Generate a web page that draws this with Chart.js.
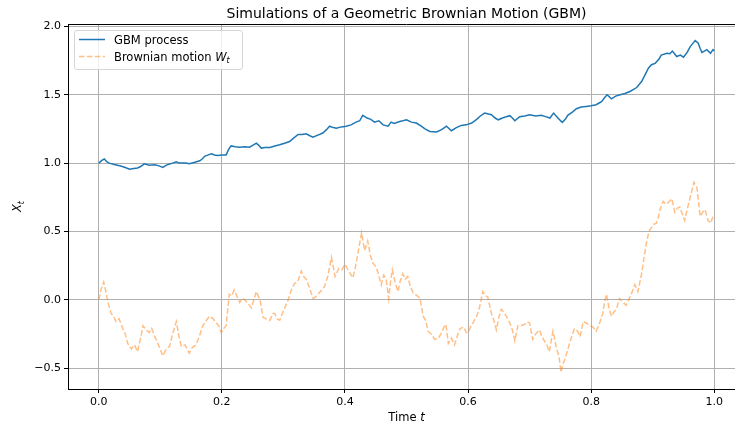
<!DOCTYPE html>
<html lang="en">
<head>
<meta charset="UTF-8">
<title>GBM simulation</title>
<script src="https://cdn.jsdelivr.net/npm/chart.js"></script>
<style>
  html, body { margin: 0; padding: 0; background: #ffffff; overflow: hidden; }
  /* plot is a bit wider than the window, the right spine falls off like in the picture */
  .chart-box { position: relative; width: 745px; height: 426px; }
</style>
</head>
<body>
<div class="chart-box"><canvas id="gbmChart"></canvas></div>
<script>
const chartTitle = 'Simulations of a Geometric Brownian Motion (GBM)';
const xTicks = [0, 0.2, 0.4, 0.6, 0.8, 1.0];
const yTicks = [-0.5, 0, 0.5, 1.0, 1.5, 2.0];

// Brownian motion W_t
const bmTimes = [
  0.000, 0.004, 0.008, 0.012, 0.015, 0.020, 0.024, 0.028, 0.033, 0.039, 0.043, 0.047, 0.053, 0.058, 0.063, 0.068,
  0.072, 0.077, 0.082, 0.086, 0.091, 0.097, 0.104, 0.110, 0.115, 0.120, 0.126, 0.130, 0.134, 0.140, 0.147, 0.152,
  0.158, 0.164, 0.169, 0.175, 0.180, 0.186, 0.191, 0.195, 0.199, 0.203, 0.207, 0.212, 0.216, 0.220, 0.225, 0.229,
  0.233, 0.237, 0.243, 0.248, 0.252, 0.256, 0.262, 0.267, 0.272, 0.278, 0.283, 0.286, 0.290, 0.294, 0.300, 0.307,
  0.312, 0.318, 0.323, 0.329, 0.333, 0.337, 0.343, 0.348, 0.352, 0.356, 0.362, 0.367, 0.372, 0.378, 0.384, 0.390,
  0.395, 0.400, 0.406, 0.413, 0.417, 0.421, 0.427, 0.432, 0.437, 0.441, 0.445, 0.449, 0.453, 0.459, 0.463, 0.467,
  0.471, 0.474, 0.477, 0.482, 0.486, 0.490, 0.494, 0.498, 0.502, 0.506, 0.511, 0.517, 0.522, 0.527, 0.531, 0.535,
  0.540, 0.546, 0.552, 0.557, 0.561, 0.564, 0.568, 0.573, 0.578, 0.583, 0.587, 0.593, 0.597, 0.600, 0.604, 0.608,
  0.614, 0.619, 0.624, 0.628, 0.632, 0.638, 0.642, 0.646, 0.650, 0.654, 0.658, 0.662, 0.668, 0.672, 0.676, 0.681,
  0.686, 0.692, 0.696, 0.700, 0.705, 0.710, 0.716, 0.720, 0.724, 0.728, 0.732, 0.738, 0.743, 0.748, 0.751, 0.754,
  0.757, 0.761, 0.765, 0.769, 0.773, 0.778, 0.782, 0.787, 0.792, 0.798, 0.803, 0.808, 0.813, 0.819, 0.822, 0.825,
  0.829, 0.833, 0.837, 0.841, 0.846, 0.852, 0.857, 0.861, 0.866, 0.871, 0.876, 0.882, 0.887, 0.890, 0.894, 0.901,
  0.906, 0.909, 0.912, 0.917, 0.921, 0.925, 0.931, 0.936, 0.940, 0.944, 0.948, 0.952, 0.956, 0.961, 0.967, 0.972,
  0.975, 0.977, 0.981, 0.985, 0.990, 0.994, 0.998, 1.000
];
const bmValues = [
  0.00, 0.08, 0.13, 0.05, -0.02, -0.10, -0.12, -0.16, -0.14, -0.21, -0.25, -0.32, -0.36, -0.33, -0.38, -0.28,
  -0.19, -0.22, -0.24, -0.21, -0.27, -0.33, -0.41, -0.36, -0.34, -0.25, -0.16, -0.26, -0.34, -0.33, -0.39, -0.35,
  -0.33, -0.26, -0.19, -0.15, -0.12, -0.14, -0.17, -0.19, -0.24, -0.21, -0.19, 0.04, 0.03, 0.07, 0.02, -0.02,
  0.01, 0.00, -0.03, -0.06, 0.00, 0.06, 0.00, -0.13, -0.14, -0.15, -0.10, -0.10, -0.14, -0.15, -0.08, -0.01,
  0.06, 0.12, 0.13, 0.21, 0.17, 0.15, 0.08, 0.01, 0.02, 0.04, 0.07, 0.10, 0.17, 0.31, 0.17, 0.23,
  0.22, 0.26, 0.21, 0.16, 0.24, 0.34, 0.49, 0.36, 0.43, 0.33, 0.27, 0.25, 0.21, 0.11, 0.18, 0.15,
  0.01, 0.13, 0.22, 0.12, 0.06, 0.14, 0.19, 0.15, 0.17, 0.10, 0.05, 0.03, 0.01, -0.12, -0.15, -0.23,
  -0.25, -0.29, -0.28, -0.24, -0.20, -0.18, -0.32, -0.28, -0.33, -0.26, -0.21, -0.20, -0.24, -0.24, -0.20, -0.17,
  -0.12, -0.05, 0.06, 0.03, 0.02, -0.10, -0.15, -0.22, -0.13, -0.07, -0.09, -0.12, -0.17, -0.22, -0.30, -0.19,
  -0.19, -0.18, -0.16, -0.17, -0.29, -0.25, -0.22, -0.27, -0.30, -0.33, -0.38, -0.23, -0.34, -0.42, -0.53, -0.47,
  -0.44, -0.38, -0.32, -0.26, -0.21, -0.23, -0.27, -0.16, -0.17, -0.19, -0.20, -0.23, -0.18, -0.10, -0.01, 0.04,
  -0.06, -0.12, -0.09, -0.07, 0.01, -0.02, -0.04, 0.00, 0.05, 0.11, 0.06, 0.19, 0.34, 0.42, 0.50, 0.55,
  0.56, 0.60, 0.66, 0.72, 0.70, 0.71, 0.74, 0.64, 0.67, 0.68, 0.63, 0.58, 0.66, 0.75, 0.86, 0.82,
  0.70, 0.61, 0.64, 0.66, 0.58, 0.56, 0.61, 0.60
];

// GBM process X_t
const gbmTimes = [
  0.000, 0.005, 0.009, 0.013, 0.017, 0.025, 0.034, 0.042, 0.050, 0.057, 0.063, 0.068, 0.074, 0.082, 0.091, 0.098,
  0.104, 0.110, 0.115, 0.120, 0.126, 0.131, 0.137, 0.142, 0.147, 0.155, 0.164, 0.168, 0.172, 0.178, 0.183, 0.188,
  0.193, 0.200, 0.207, 0.211, 0.215, 0.222, 0.229, 0.237, 0.245, 0.250, 0.256, 0.260, 0.264, 0.270, 0.278, 0.286,
  0.294, 0.302, 0.310, 0.317, 0.324, 0.330, 0.337, 0.343, 0.348, 0.356, 0.364, 0.370, 0.375, 0.381, 0.386, 0.394,
  0.402, 0.410, 0.418, 0.424, 0.429, 0.436, 0.442, 0.448, 0.455, 0.462, 0.470, 0.475, 0.480, 0.489, 0.494, 0.500,
  0.508, 0.516, 0.524, 0.530, 0.538, 0.549, 0.557, 0.565, 0.573, 0.581, 0.589, 0.597, 0.606, 0.614, 0.620, 0.627,
  0.633, 0.638, 0.644, 0.649, 0.656, 0.662, 0.668, 0.672, 0.676, 0.684, 0.692, 0.700, 0.710, 0.719, 0.726, 0.733,
  0.739, 0.746, 0.753, 0.758, 0.762, 0.770, 0.776, 0.784, 0.792, 0.800, 0.808, 0.813, 0.817, 0.822, 0.826, 0.833,
  0.840, 0.847, 0.855, 0.863, 0.869, 0.874, 0.882, 0.888, 0.893, 0.898, 0.904, 0.910, 0.914, 0.923, 0.928, 0.932,
  0.939, 0.945, 0.950, 0.956, 0.961, 0.966, 0.969, 0.974, 0.977, 0.980, 0.984, 0.988, 0.994, 0.998, 1.000
];
const gbmValues = [
  1.00, 1.02, 1.03, 1.01, 1.00, 0.99, 0.98, 0.97, 0.956, 0.96, 0.964, 0.975, 0.995, 0.985, 0.988, 0.98,
  0.968, 0.985, 0.993, 1.00, 1.01, 1.00, 1.00, 1.00, 0.995, 1.005, 1.017, 1.03, 1.05, 1.06, 1.068, 1.06,
  1.055, 1.06, 1.06, 1.10, 1.126, 1.12, 1.117, 1.12, 1.117, 1.13, 1.146, 1.13, 1.11, 1.115, 1.114, 1.125,
  1.134, 1.145, 1.158, 1.185, 1.21, 1.21, 1.214, 1.20, 1.19, 1.205, 1.22, 1.245, 1.27, 1.26, 1.255, 1.265,
  1.27, 1.28, 1.30, 1.31, 1.35, 1.33, 1.32, 1.30, 1.31, 1.28, 1.27, 1.30, 1.29, 1.305, 1.31, 1.317,
  1.30, 1.293, 1.27, 1.25, 1.232, 1.228, 1.245, 1.27, 1.237, 1.26, 1.276, 1.28, 1.293, 1.32, 1.345, 1.366,
  1.36, 1.354, 1.33, 1.317, 1.33, 1.34, 1.347, 1.33, 1.31, 1.34, 1.345, 1.354, 1.345, 1.35, 1.34, 1.33,
  1.366, 1.33, 1.298, 1.32, 1.35, 1.375, 1.398, 1.41, 1.415, 1.42, 1.427, 1.44, 1.45, 1.48, 1.50, 1.47,
  1.49, 1.50, 1.51, 1.524, 1.54, 1.553, 1.597, 1.65, 1.695, 1.72, 1.73, 1.76, 1.79, 1.804, 1.80, 1.82,
  1.78, 1.79, 1.775, 1.81, 1.853, 1.88, 1.896, 1.877, 1.84, 1.81, 1.82, 1.83, 1.804, 1.83, 1.82
];

const FONT = '"DejaVu Sans", sans-serif';
const gbmColor = '#1f77b4';
const bmColor = 'rgba(255, 127, 14, 0.5)';

function toPoints(ts, vs) {
  return ts.map((t, i) => ({ x: t, y: vs[i] }));
}

// draws a run of text pieces (some italic / subscript) starting at x
function drawPieces(ctx, pieces, x, y) {
  let cx = x;
  pieces.forEach(p => {
    ctx.font = (p.italic ? 'italic ' : '') + p.size + 'px ' + FONT;
    ctx.fillText(p.text, cx, y + (p.dy || 0));
    cx += ctx.measureText(p.text).width;
  });
  return cx - x;
}
function piecesWidth(ctx, pieces) {
  let w = 0;
  pieces.forEach(p => {
    ctx.font = (p.italic ? 'italic ' : '') + p.size + 'px ' + FONT;
    w += ctx.measureText(p.text).width;
  });
  return w;
}

const decorations = {
  id: 'decorations',
  afterDraw(chart) {
    const ctx = chart.ctx;
    const a = chart.chartArea;
    ctx.save();
    ctx.fillStyle = '#000';
    ctx.textBaseline = 'alphabetic';

    // top spine
    ctx.strokeStyle = '#000';
    ctx.lineWidth = 1;
    ctx.beginPath();
    ctx.moveTo(a.left, a.top + 0.5);
    ctx.lineTo(a.right, a.top + 0.5);
    ctx.stroke();

    // title, centred over the axes
    ctx.font = '14px ' + FONT;
    ctx.textAlign = 'center';
    ctx.fillText(chartTitle, (a.left + a.right) / 2, 18);

    // x label "Time t"
    ctx.textAlign = 'left';
    const xl = [{ text: 'Time ', size: 11.5 }, { text: 't', size: 11.5, italic: true }];
    const xw = piecesWidth(ctx, xl);
    drawPieces(ctx, xl, (a.left + a.right) / 2 - xw / 2, 421);

    // y label X_t, rotated
    ctx.save();
    ctx.translate(21, (a.top + a.bottom) / 2);
    ctx.rotate(-Math.PI / 2);
    const yl = [{ text: 'X', size: 11.5, italic: true }, { text: 't', size: 8, italic: true, dy: 2.5 }];
    const yw = piecesWidth(ctx, yl);
    drawPieces(ctx, yl, -yw / 2, 0);
    ctx.restore();

    // legend box
    const bx = 74.5, by = 30.5, bw = 168, bh = 39, r = 2.5;
    ctx.beginPath();
    ctx.moveTo(bx + r, by);
    ctx.arcTo(bx + bw, by, bx + bw, by + bh, r);
    ctx.arcTo(bx + bw, by + bh, bx, by + bh, r);
    ctx.arcTo(bx, by + bh, bx, by, r);
    ctx.arcTo(bx, by, bx + bw, by, r);
    ctx.closePath();
    ctx.fillStyle = 'rgba(255,255,255,0.8)';
    ctx.fill();
    ctx.strokeStyle = '#d6d6d6';
    ctx.lineWidth = 1;
    ctx.stroke();

    const rows = [
      { y: 39.5, color: gbmColor, dash: [], label: [{ text: 'GBM process', size: 11.5 }] },
      { y: 56.5, color: bmColor, dash: [5.5, 2.4], label: [
        { text: 'Brownian motion ', size: 11.5 },
        { text: 'W', size: 11.5, italic: true },
        { text: 't', size: 8, italic: true, dy: 2.5 }
      ] }
    ];
    rows.forEach(row => {
      ctx.strokeStyle = row.color;
      ctx.lineWidth = 1.5;
      ctx.setLineDash(row.dash);
      ctx.beginPath();
      ctx.moveTo(79, row.y);
      ctx.lineTo(105, row.y);
      ctx.stroke();
      ctx.setLineDash([]);
      ctx.fillStyle = '#000';
      drawPieces(ctx, row.label, 114, row.y + 4);
    });
    ctx.restore();
  }
};

const tickFont = { family: FONT, size: 11 };

new Chart(document.getElementById('gbmChart').getContext('2d'), {
  type: 'line',
  data: {
    datasets: [
      {
        label: 'GBM process',
        data: toPoints(gbmTimes, gbmValues),
        borderColor: gbmColor,
        borderWidth: 1.5,
        pointRadius: 0,
        tension: 0,
        fill: false
      },
      {
        label: 'Brownian motion W_t',
        data: toPoints(bmTimes, bmValues),
        borderColor: bmColor,
        borderWidth: 1.5,
        borderDash: [5.5, 2.4],
        pointRadius: 0,
        tension: 0,
        fill: false
      }
    ]
  },
  options: {
    responsive: true,
    maintainAspectRatio: false,
    animation: false,
    layout: { padding: { top: 24, right: 0, bottom: 0, left: 0 } },
    plugins: {
      legend: { display: false },
      title: { display: false },
      tooltip: { enabled: false }
    },
    scales: {
      x: {
        type: 'linear',
        min: -0.05,
        max: 1.05,
        afterBuildTicks: s => { s.ticks = xTicks.map(v => ({ value: v })); },
        afterFit: s => { s.height = 37; },
        ticks: {
          callback: v => v.toFixed(1),
          color: '#000',
          font: tickFont,
          padding: 3,
          maxRotation: 0,
          autoSkip: false
        },
        grid: { color: '#b0b0b0', lineWidth: 1, tickColor: '#000', tickLength: 4 },
        border: { color: '#000', width: 1 }
      },
      y: {
        min: -0.653,
        max: 2.018,
        afterBuildTicks: s => { s.ticks = yTicks.map(v => ({ value: v })); },
        afterFit: s => { s.width = 68; },
        ticks: {
          callback: v => v.toFixed(1).replace('-', '\u2212'),
          color: '#000',
          font: tickFont,
          padding: 3,
          autoSkip: false
        },
        grid: { color: '#b0b0b0', lineWidth: 1, tickColor: '#000', tickLength: 4 },
        border: { color: '#000', width: 1 }
      }
    }
  },
  plugins: [decorations]
});
</script>
</body>
</html>
